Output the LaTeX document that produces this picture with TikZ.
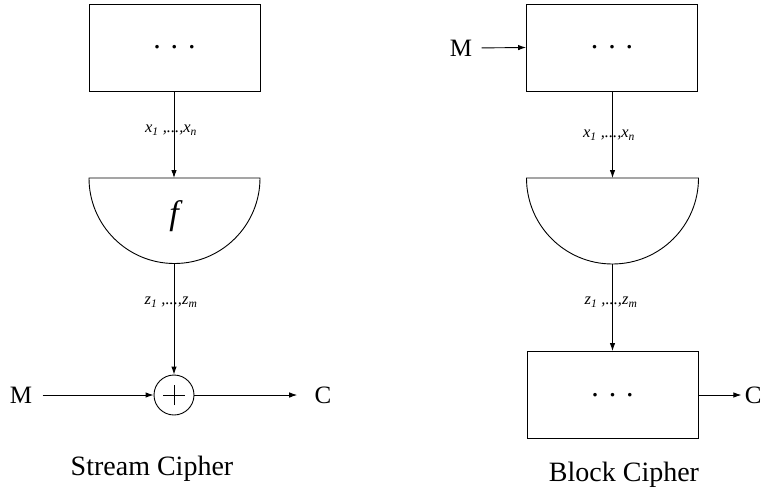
\documentclass[tikz,border=0pt]{standalone}
\usepackage{fontspec}
\setmainfont{Liberation Serif}
\usetikzlibrary{arrows.meta}
\begin{document}
\begin{tikzpicture}[x=1pt,y=-1pt,
  line width=0.9pt,
  arr/.style={-{Latex[length=8pt,width=5.5pt]}},
  blockbox/.style={draw,minimum width=171pt,minimum height=87pt,inner sep=0pt,font=\fontsize{30}{30}\selectfont},
  biglbl/.style={font=\fontsize{25}{25}\selectfont,inner sep=0pt},
  title/.style={font=\fontsize{28}{28}\selectfont,inner sep=0pt},
  seqlbl/.style={font=\fontsize{16.5}{16.5}\selectfont\itshape,inner sep=0pt},
  xorc/.style={draw,circle,minimum size=40pt,inner sep=0pt,
    path picture={\draw (path picture bounding box.center) ++(-11pt,0) -- ++(22pt,0);
                  \draw (path picture bounding box.center) ++(0,-10pt) -- ++(0,20pt);}}
]
\useasboundingbox (0,0) rectangle (762,501);
\newcommand{\dts}{.\hspace{10pt}.\hspace{10pt}.}
% ---------- Stream cipher ----------
\node[blockbox] (sbox) at (174.5,47.5) {\dts};
\draw (89,178) arc[start angle=180,end angle=0,radius=85.5] -- cycle;
\coordinate (stop) at (174,178);
\coordinate (sbot) at (174,264);
\node[font=\fontsize{34}{34}\selectfont\itshape] (f) at (174,216) {f};
\node[xorc] (xor) at (174,395) {};
\node[biglbl] (sm) at (21,395) {M};
\node[biglbl] (sc) at (323,395) {C};
\draw[arr] (sbox.south -| stop) -- (stop);
\draw[arr] (sbot) -- (xor.north);
\draw[arr,shorten <=10pt] (sm.east) -- (xor.west);
\draw[arr,shorten >=17pt] (xor.east) -- (sc.west);
\node[seqlbl] (sx) at (171,130) {x\textsubscript{1} ,...,x\textsubscript{n}};
\node[seqlbl] (sz) at (171,302) {z\textsubscript{1} ,...,z\textsubscript{m}};
\node[title] (st) at (152,469) {Stream Cipher};
% ---------- Block cipher ----------
\node[blockbox] (btop) at (612,47.5) {\dts};
\draw (526.5,178) arc[start angle=180,end angle=0,radius=86] -- cycle;
\coordinate (btin) at (612.5,178);
\coordinate (bbot) at (612.5,264);
\node[blockbox] (bbox) at (612.5,395) {\dts};
\node[biglbl] (bm) at (461,48) {M};
\node[biglbl,anchor=east] (bc) at (762,395) {C};
\draw[arr,shorten <=9pt] (bm.east) -- (btop.west);
\draw[arr] (btop.south -| btin) -- (btin);
\draw[arr] (bbot) -- (bbox.north -| bbot);
\draw[arr,shorten >=3pt] (bbox.east) -- (bc.west);
\node[seqlbl] (bx) at (609,135) {x\textsubscript{1} ,...,x\textsubscript{n}};
\node[seqlbl] (bz) at (611,302) {z\textsubscript{1} ,...,z\textsubscript{m}};
\node[title] (bt) at (624,475) {Block Cipher};
\end{tikzpicture}
\end{document}
